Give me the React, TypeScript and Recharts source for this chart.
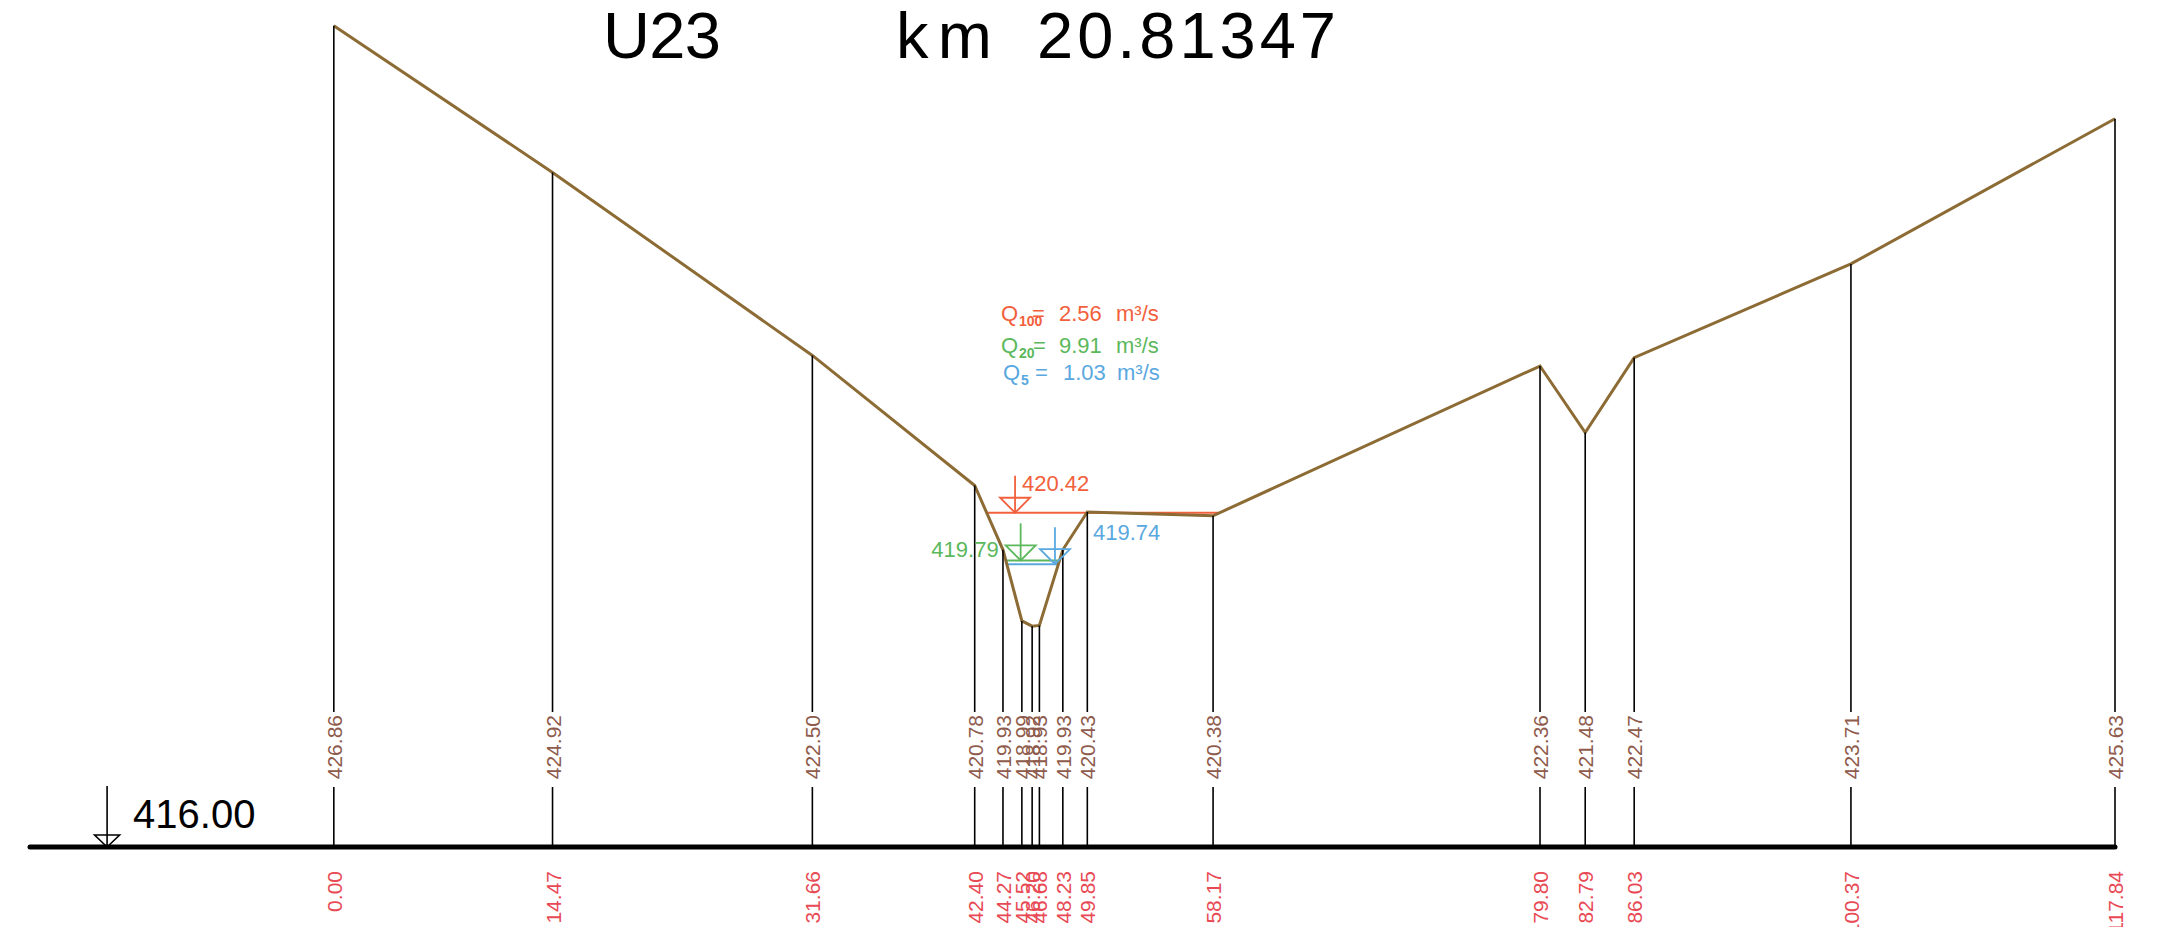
import {
  ComposedChart,
  Line,
  Scatter,
  XAxis,
  YAxis,
  ReferenceLine,
  Customized,
} from 'recharts'

// Cross-section U23, stations (m) and ground elevations (m a.s.l.)
const STATIONS = [0.0, 14.47, 31.66, 42.4, 44.27, 45.52, 46.2, 46.68, 48.23, 49.85, 58.17, 79.8, 82.79, 86.03, 100.37, 117.84]
const ELEVATIONS = [426.86, 424.92, 422.5, 420.78, 419.93, 418.99, 418.92, 418.93, 419.93, 420.43, 420.38, 422.36, 421.48, 422.47, 423.71, 425.63]

// Water levels for the design floods
const WATER_LEVELS = [420.42, 419.79, 419.74]
const WATER_FROM = [43.2, 44.5, 44.5]
const WATER_TO = [58.6, 48.0, 47.9]
const MARKER_STATIONS = [45.07, 45.44, 47.71]
const Q_SUBS = ['100', '20', '5']
const Q_VALUES = [2.56, 9.91, 1.03]

const DATUM = 416.0
const DATUM_MARK_STATION = -15.0
const TITLE_PROFILE = 'U23'
const TITLE_KM = '20.81347'

// layout
const W = 2175
const H = 927
const AXIS_H = 80
const BASE_Y = H - AXIS_H
const FONT = "'Liberation Sans', Arial, sans-serif"
const TERRAIN = '#8c6b34'
const ELEV_TEXT = '#8e5b4c'
const STATION_TEXT = '#e84a55'
const WATER_COLORS = ['#f2603c', '#5cb85c', '#5aa8e0']
const MARKER_LABEL = [
  { dx: 7, dy: -22, anchor: 'start' },
  { dx: -22, dy: -3, anchor: 'end' },
  { dx: 38, dy: -24, anchor: 'start' },
]

const terrain = STATIONS.map((s, i) => ({ station: s, elev: ELEVATIONS[i] }))
const markers = MARKER_STATIONS.map((s, i) => ({ station: s, elev: WATER_LEVELS[i], idx: i }))
const datum = [{ station: DATUM_MARK_STATION, elev: DATUM }]

function StationStem(props: any) {
  const { cx, cy, payload } = props
  const gapTop = BASE_Y - 135
  const gapBottom = BASE_Y - 60
  return (
    <g>
      {cy < gapTop && <line x1={cx} x2={cx} y1={cy} y2={gapTop} stroke="#000" strokeWidth={1.6} />}
      <line x1={cx} x2={cx} y1={gapBottom} y2={BASE_Y} stroke="#000" strokeWidth={1.6} />
      <text
        transform={`translate(${cx + 8},${BASE_Y - 132}) rotate(-90)`}
        textAnchor="end"
        fontFamily={FONT}
        fontSize={21}
        fill={ELEV_TEXT}
      >
        {payload.elev.toFixed(2)}
      </text>
    </g>
  )
}

function WaterMarker(props: any) {
  const { cx, cy, payload } = props
  const c = WATER_COLORS[payload.idx]
  const lab = MARKER_LABEL[payload.idx]
  return (
    <g>
      <line x1={cx} x2={cx} y1={cy - 37} y2={cy} stroke={c} strokeWidth={1.8} />
      <polygon
        points={`${cx - 15},${cy - 15} ${cx + 15},${cy - 15} ${cx},${cy}`}
        fill="none"
        stroke={c}
        strokeWidth={1.8}
      />
      <text x={cx + lab.dx} y={cy + lab.dy} textAnchor={lab.anchor as any} fontFamily={FONT} fontSize={22} fill={c}>
        {payload.elev.toFixed(2)}
      </text>
    </g>
  )
}

function DatumMarker(props: any) {
  const { cx, cy, payload } = props
  return (
    <g>
      <line x1={cx} x2={cx} y1={cy - 61} y2={cy} stroke="#000" strokeWidth={1.6} />
      <polygon
        points={`${cx - 12.5},${cy - 12} ${cx + 12.5},${cy - 12} ${cx},${cy}`}
        fill="none"
        stroke="#000"
        strokeWidth={1.6}
      />
      <text x={cx + 26} y={cy - 19} fontFamily={FONT} fontSize={40} fill="#000">
        {payload.elev.toFixed(2)}
      </text>
    </g>
  )
}

function StationTick(props: any) {
  const { x, y, payload } = props
  return (
    <text
      transform={`translate(${x + 8},${y + 24}) rotate(-90)`}
      textAnchor="end"
      fontFamily={FONT}
      fontSize={21}
      fill={STATION_TEXT}
    >
      {payload.value.toFixed(2)}
    </text>
  )
}

// title, stretched to the widths of the CAD text
function Title() {
  const parts = [
    { x: 603, w: 118, t: TITLE_PROFILE },
    { x: 896, w: 96, t: 'km' },
    { x: 1037, w: 299, t: TITLE_KM },
  ]
  return (
    <g fontFamily={FONT} fontSize={65} fill="#000">
      {parts.map((p) => (
        <text key={p.t} x={p.x} y={58} textLength={p.w} lengthAdjust="spacing">
          {p.t}
        </text>
      ))}
    </g>
  )
}

// discharge block (Q100 / Q20 / Q5)
function DischargeBlock() {
  const rows = [
    { y: 321, qx: 1001, subx: 1019, eqx: 1032, vx: 1059, ux: 1116 },
    { y: 353, qx: 1001, subx: 1019, eqx: 1033, vx: 1059, ux: 1116 },
    { y: 380, qx: 1003, subx: 1021, eqx: 1035, vx: 1063, ux: 1117 },
  ]
  return (
    <g fontFamily={FONT} fontSize={22}>
      {rows.map((r, i) => (
        <text key={i} y={r.y} fill={WATER_COLORS[i]}>
          <tspan x={r.qx}>Q</tspan>
          <tspan x={r.subx} dy={5} fontSize={14} fontWeight="bold">{Q_SUBS[i]}</tspan>
          <tspan x={r.eqx} dy={-5}>=</tspan>
          <tspan x={r.vx}>{Q_VALUES[i].toFixed(2)}</tspan>
          <tspan x={r.ux}>m³/s</tspan>
        </text>
      ))}
    </g>
  )
}

export default function App() {
  return (
    <div style={{ position: 'absolute', left: 0, top: 0, width: W, height: H, background: '#fff' }}>
      <ComposedChart width={W} height={H} data={terrain} margin={{ top: 0, right: 60, bottom: 0, left: 30 }}>
        <XAxis
          dataKey="station"
          type="number"
          domain={[-20.1, 117.84]}
          ticks={STATIONS}
          interval={0}
          tick={<StationTick />}
          tickLine={false}
          axisLine={false}
          tickSize={0}
          tickMargin={0}
          height={AXIS_H}
        />
        <YAxis type="number" domain={[416, 427.2]} hide />
        <Scatter data={terrain} dataKey="elev" shape={<StationStem />} isAnimationActive={false} />
        {WATER_LEVELS.map((lvl, i) => (
          <ReferenceLine
            key={`w${i}`}
            segment={[
              { x: WATER_FROM[i], y: lvl },
              { x: WATER_TO[i], y: lvl },
            ]}
            stroke={WATER_COLORS[i]}
            strokeWidth={2}
          />
        ))}
        <Line
          dataKey="elev"
          type="linear"
          stroke={TERRAIN}
          strokeWidth={3}
          dot={false}
          isAnimationActive={false}
        />
        <Scatter data={markers} dataKey="elev" shape={<WaterMarker />} isAnimationActive={false} />
        <Scatter data={datum} dataKey="elev" shape={<DatumMarker />} isAnimationActive={false} />
        <ReferenceLine y={DATUM} stroke="#000" strokeWidth={5} strokeLinecap="round" />
        <Customized component={<Title />} />
        <Customized component={<DischargeBlock />} />
      </ComposedChart>
    </div>
  )
}
